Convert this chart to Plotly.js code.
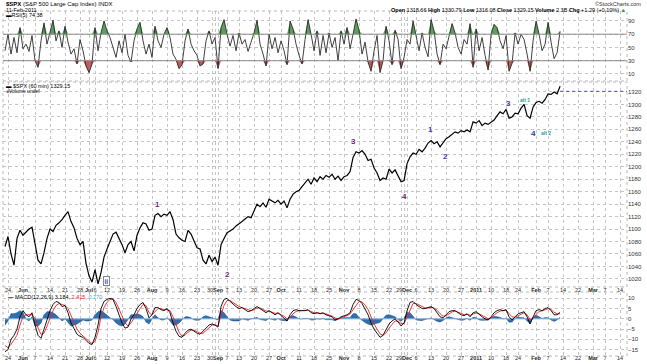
<!DOCTYPE html>
<html><head><meta charset="utf-8">
<script src="https://cdn.plot.ly/plotly-3.0.1.min.js"></script>
<style>html,body{margin:0;padding:0;background:#fff}#c{width:647px;height:364px}</style>
</head><body><div id="c"></div>
<script>
// ---- data (one value per trading day, 21-May-2010 .. 11-Feb-2011) ----
const price = [1072,1088,1060,1042,1085,1098,1090,1095,1100,1103,
1075,1050,1044,1062,1085,1100,1096,1106,1110,1115,
1122,1128,1112,1102,1085,1075,1080,1045,1025,1015,
1035,1012,1030,1055,1068,1080,1092,1095,1085,1075,
1062,1075,1080,1065,1090,1102,1110,1108,1098,1100,
1122,1125,1120,1124,1122,1128,1115,1092,1086,1082,
1080,1098,1092,1080,1070,1068,1050,1044,1058,1048,
1055,1042,1075,1085,1094,1097,1100,1105,1108,1112,
1116,1120,1118,1128,1140,1136,1142,1135,1148,1145,
1142,1146,1140,1145,1134,1148,1156,1160,1162,1168,
1175,1180,1172,1182,1176,1184,1180,1186,1183,1188,
1180,1185,1178,1184,1186,1192,1215,1224,1222,1226,
1220,1210,1212,1198,1190,1178,1182,1180,1196,1190,
1195,1184,1176,1178,1205,1216,1222,1220,1228,1224,
1230,1238,1242,1237,1240,1232,1238,1245,1248,1252,
1256,1254,1258,1256,1259,1256,1272,1270,1274,1266,
1270,1268,1272,1275,1282,1288,1285,1292,1278,1280,
1286,1285,1294,1300,1282,1278,1296,1303,1305,1302,
1308,1317,1316,1320,1317,1329.15];

const rsi = [45,70,40,65,42,80,48,55,44,68,
30,20,60,87,55,72,91,60,75,50,
82,58,40,48,25,62,45,22,12,25,
80,45,72,90,75,65,48,35,60,42,
70,38,28,60,78,88,60,40,55,35,
82,60,50,70,80,65,40,32,18,24,
60,78,55,45,38,22,25,60,75,55,
65,18,80,92,70,52,68,45,72,55,
62,44,58,72,91,55,40,22,70,48,
65,42,60,45,24,90,78,55,38,25,
62,92,70,45,75,38,68,42,72,50,
65,30,75,55,80,48,70,93,76,40,
58,28,14,45,68,12,30,82,60,24,
76,62,18,35,62,55,90,70,45,72,
50,36,92,75,40,24,55,48,65,86,
72,50,40,62,55,86,20,78,45,65,
38,16,70,85,80,60,48,68,14,26,
72,55,70,62,40,14,60,90,70,45,
55,88,58,33,42,74.38];

const macd = [-16,-15,-10,-8,-5,1,4,2,1,3,
-3,-8,-9.5,-5,0,4,7,8.5,8,6,
6.5,3,-2,-5,-7.5,-8.5,-9,-10.5,-12,-12.5,
-9,-3,5,8.5,9.5,10,9.5,6,2,-2,
-4.5,-4,0,2,5,7,8,5,0.5,2,
5.5,5.5,4.5,4,5,3,-2,-6,-8.5,-9,
-7,-5.5,-5,-6,-7,-7.5,-6,-4,-3,-2.5,
-3,-4,6,9.5,10,8.5,7,6,5,5.5,
4.5,3.5,4,5,6,5,4,3,4,3,
2,3,1.5,0.5,-1,2,4,4.5,4,4,
4,4.5,3,2.5,3,2.5,3,2,1.5,1,
-0.5,0,1,1.5,2,3,7,9.5,9,7.5,
5,2,-2,-5,-7,-9,-8,-5,-2.5,-1,
0,-1.5,-3.5,-2,4,8,8.5,7,6,5,
5,5.5,6,5,3,1,0.5,2,3.5,4,
4,3,2,1.5,2.5,1,3,3.5,2,1,
0,-0.5,1,3,4,4.5,4,4.5,1,-0.5,
1,2.5,3,3.5,1,-2.5,1,4,4.5,4,
5,5.5,4,2,2,3.184];

const signal = [-13,-14,-12.5,-10.5,-8,-3,1,2,2,2,
0.5,-4.5,-7.5,-7,-3.5,0.5,4,6.5,7.5,7,
6.5,5,1.5,-2,-5,-7,-8.5,-9.5,-11,-12,
-11,-6.5,1,5.5,8,9.5,9.8,8,5,1.5,
-2,-3.5,-2,0,2.5,5,7,6.5,3,2,
3.5,5,5,4.5,4.5,4,1,-3,-6.5,-8.5,
-8,-6.5,-5.5,-5.5,-6.3,-7,-7,-5.5,-4,-3,
-3,-3.5,2,6.5,9,9,8,7,6,5.5,
5,4.2,4,4.5,5.3,5.3,4.6,3.8,3.8,3.4,
2.7,2.8,2.2,1.3,0,0.8,2.5,3.6,4,4,
4,4.2,3.6,3,2.9,2.7,2.8,2.4,1.9,1.4,
0.4,0,0.5,1,1.6,2.4,4.5,7,8.5,8.2,
6.8,4.5,1,-2.5,-5,-7.3,-8,-6.8,-4.5,-2.5,
-1,-1.2,-2.3,-2.3,1,5,7.5,7.5,6.7,5.8,
5.3,5.3,5.6,5.3,4.2,2.5,1.3,1.5,2.5,3.4,
3.8,3.4,2.7,2,2.2,1.7,2.2,2.9,2.5,1.7,
0.8,0.1,0.5,1.8,3,3.8,4,4.2,2.6,1,
0.8,1.6,2.4,3,2,-0.3,0.2,2.2,3.5,3.8,
4.4,5,4.5,3.2,2.5,2.415];

const hist = [-3,-1,2.5,2.5,3,4,3,0,-1,1,
-3.5,-3.5,-2,2,3.5,3.5,3,2,0.5,-1,
0,-2,-3.5,-3,-2.5,-1.5,-0.5,-1,-1,-0.5,
2,3.5,4,3,1.5,0.5,-0.3,-2,-3,-3.5,
-2.5,-0.5,2,2,2.5,2,1,-1.5,-2.5,0,
2,0.5,-0.5,-0.5,0.5,-1,-3,-3,-2,-0.5,
1,1,0.5,-0.5,-0.7,-0.5,1,1.5,1,0.5,
0,-0.5,4,3,1,-0.5,-1,-1,-1,0,
-0.5,-0.7,0,0.5,0.7,-0.3,-0.6,-0.8,0.2,-0.4,
-0.7,0.2,-0.7,-0.8,-1,1.2,1.5,0.9,0,0,
0,0.3,-0.6,-0.5,0.1,-0.2,0.2,-0.4,-0.4,-0.4,
-0.9,0,0.5,0.5,0.4,0.6,2.5,2.5,0.5,-0.7,
-1.8,-2.5,-3,-2.5,-2,-1.7,0,1.8,2,1.5,
1,-0.3,-1.2,0.3,3,3,1,-0.5,-0.7,-0.8,
-0.3,0.2,0.4,-0.3,-1.2,-1.5,-0.8,0.5,1,0.6,
0.2,-0.4,-0.7,-0.5,0.3,-0.7,0.8,0.6,-0.5,-0.7,
-0.8,-0.6,0.5,1.2,1,0.7,0,0.3,-1.6,-1.5,
0.2,0.9,0.6,0.5,-1,-2.2,0.8,1.8,1,0.2,
0.6,0.5,-0.5,-1.2,-0.5,0.77];

// x-axis ticks: trading-day index -> label
const tickPos  = [1,6,10,15,20,25,28,30,34,39,44,49,54,59,64,70,74,78,83,88,92,98,103,108,113,118,123,128,133,137,142,147,152,157,162,167,171,177,181,186,191,196,200,205];
const tickText = ['24','<b>Jun</b>','7','14','21','28','<b>Jul</b>','6','12','19','26','<b>Aug</b>','9','16','23','30<b>Sep</b>','7','13','20','27','<b>Oct</b>','11','18','25','<b>Nov</b>','8','15','22','29<b>Dec</b>','6','13','20','27','<b>2011</b>','10','18','24','<b>Feb</b>','7','14','22','<b>Mar</b>','7','14'];
const extraGrid = [69,71,132,134];

const priceTicks = [1020,1040,1060,1080,1100,1120,1140,1160,1180,1200,1220,1240,1260,1280,1300,1320];
const rsiTicks = [10,30,50,70,90];
const macdTicks = [-15,-10,-5,0,5,10];
const hLineLevel = 1321;

// Elliott wave labels: [dayIndex, price, text, colour]
const waveLabels = [
  [50.7,1139,'1','#7a1a7a'],[74.3,1027,'2','#7a1a7a'],[116.3,1240,'3','#7a1a7a'],[133.3,1152,'4','#7a1a7a'],
  [141.7,1259,'1','#3a3ab8'],[146.7,1217,'2','#3a3ab8'],[167.7,1302,'3','#5a3aa8'],[176.3,1253,'4','#3a3ab8']
];
const altLabels = [[173.3,1307,'alt 1'],[180.3,1254,'alt 2']];

// ---- build ----
const x = price.map((_,i)=>i);
const W=647,H=364,L=3,R=20;
const px = p => (p-L)/(W-L-R);
const py = p => 1 - p/H;
const xr = [-0.67, 207.3];
const font = 'Liberation Sans, Arial, sans-serif';
const gridc = '#c4c4c4';

const xbase = {range:xr, tickvals:tickPos, ticktext:tickText, tickangle:0, showgrid:true, gridcolor:gridc, griddash:'dot', gridwidth:1,
  minor:{tickvals:extraGrid, showgrid:true, gridcolor:gridc, griddash:'dot', gridwidth:1, ticks:''},
  zeroline:false, ticks:'', tickfont:{size:5.5,color:'#222',family:font}, showline:false, fixedrange:true};
const ybase = {side:'right', showgrid:true, gridcolor:gridc, griddash:'dot', zeroline:false, ticks:'',
  tickfont:{size:6,color:'#333',family:font}, showline:false, fixedrange:true};

const rsiHi = rsi.map(v=>Math.max(v,70));
const rsiLo = rsi.map(v=>Math.min(v,30));

const traces = [
  {x, y:rsi.map(()=>70), xaxis:'x', yaxis:'y', mode:'lines', line:{width:0,color:'rgba(0,0,0,0)'}, hoverinfo:'skip'},
  {x, y:rsiHi, xaxis:'x', yaxis:'y', mode:'lines', line:{width:0,color:'rgba(0,0,0,0)'}, fill:'tonexty', fillcolor:'#5c9e5c', hoverinfo:'skip'},
  {x, y:rsi.map(()=>30), xaxis:'x', yaxis:'y', mode:'lines', line:{width:0,color:'rgba(0,0,0,0)'}, hoverinfo:'skip'},
  {x, y:rsiLo, xaxis:'x', yaxis:'y', mode:'lines', line:{width:0,color:'rgba(0,0,0,0)'}, fill:'tonexty', fillcolor:'#c25b5b', hoverinfo:'skip'},
  {x, y:rsi, xaxis:'x', yaxis:'y', mode:'lines', line:{width:0.9,color:'#2a2a2a'}},
  {x, y:price, xaxis:'x2', yaxis:'y2', mode:'lines', line:{width:1.2,color:'#000'}},
  {x:[x[x.length-1], xr[1]], y:[hLineLevel,hLineLevel], xaxis:'x2', yaxis:'y2', mode:'lines', line:{width:1,color:'#4444ff',dash:'dot'}},
  {x, y:hist, xaxis:'x3', yaxis:'y3', mode:'lines', fill:'tozeroy', fillcolor:'#2f6fb0', line:{width:0.6,color:'#1d4f88'}},
  {x, y:hist.map(()=>0), xaxis:'x3', yaxis:'y3', mode:'lines', line:{width:1,color:'#8ab8e8'}},
  {x, y:signal, xaxis:'x3', yaxis:'y3', mode:'lines', line:{width:0.9,color:'#ee2020'}},
  {x, y:macd, xaxis:'x3', yaxis:'y3', mode:'lines', line:{width:0.9,color:'#000'}}
];

const ann = [];
function txt(xp,yp,t,size,color,anchor){ann.push({xref:'paper',yref:'paper',x:px(xp),y:py(yp),text:t,showarrow:false,xanchor:anchor||'left',yanchor:'middle',font:{size:size,color:color||'#000',family:font}});}
txt(4,4,'<b>$SPX</b> (S&P 500 Large Cap Index) INDX',6);
txt(4,10,'11-Feb-2011',5.5);
txt(4,15.5,'<b>▬</b>RSI(5) 74.38',5.5);
txt(643,4,'©StockCharts.com',5.5,'#333','right');
txt(628,9.5,'<b>Open</b> 1318.66 <b>High</b> 1330.79 <b>Low</b> 1316.08 <b>Close</b> 1329.15 <b>Volume</b> 2.3B <b>Chg</b> +1.29 (+0.10%) <span style="color:#2a9a2a">▲</span>',5.5,'#000','right');
txt(4,86,'<b>▬</b> $SPX (60 min) 1329.15',5.5);
txt(4,91,'<span style="color:#777">■</span>Volume undef',5);
txt(6,296.5,'<b>—</b> MACD(12,26,9) 3.184, <span style="color:#ee2020">2.415</span>, <span style="color:#4aa0e0">0.770</span>',5.5);

waveLabels.forEach(w=>ann.push({xref:'x2',yref:'y2',x:w[0],y:w[1],text:'<b>'+w[2]+'</b>',showarrow:false,font:{size:8,color:w[3],family:font}}));
altLabels.forEach(w=>ann.push({xref:'x2',yref:'y2',x:w[0],y:w[1],text:'<b>'+w[2]+'</b>',showarrow:false,font:{size:5,color:'#1f9a9a',family:font}}));
ann.push({xref:'x2',yref:'y2',x:33.7,y:1017,text:'<b>ii</b>',showarrow:false,font:{size:6.5,color:'#2a4ad0',family:font},bordercolor:'#888',borderwidth:1,borderpad:0.5,bgcolor:'#fff'});

const shapes = [];
[['y',70],['y',30]].forEach(s=>shapes.push({type:'line',xref:'x domain',yref:s[0],x0:0,x1:1,y0:s[1],y1:s[1],line:{color:'#8a8a8a',width:1}}));
['','2','3'].forEach(a=>shapes.push({type:'rect',xref:'x'+a+' domain',yref:'y'+a+' domain',x0:0,x1:1,y0:0,y1:1,line:{color:'#b8b8b8',width:1,dash:'dot'}}));

const layout = {
  width:W, height:H, margin:{l:L,r:R,t:0,b:0}, paper_bgcolor:'#fff', plot_bgcolor:'#fff', showlegend:false,
  font:{family:font,size:6},
  xaxis: Object.assign({}, xbase, {domain:[0,1], anchor:'y', showticklabels:false}),
  xaxis2: Object.assign({}, xbase, {domain:[0,1], anchor:'y2', showticklabels:true, ticklabelstandoff:-2}),
  xaxis3: Object.assign({}, xbase, {domain:[0,1], anchor:'y3', showticklabels:true, ticklabelstandoff:-3}),
  yaxis: Object.assign({}, ybase, {domain:[py(81),py(11)], range:[-0.6,105], tickvals:rsiTicks, anchor:'x'}),
  yaxis2: Object.assign({}, ybase, {domain:[py(287),py(82)], range:[1007,1336], tickvals:priceTicks, anchor:'x2'}),
  yaxis3: Object.assign({}, ybase, {domain:[py(356),py(292)], range:[-18.1,13.1], tickvals:macdTicks, anchor:'x3'}),
  annotations: ann, shapes: shapes
};
Plotly.newPlot('c', traces, layout, {staticPlot:true, displayModeBar:false});
</script></body></html>
